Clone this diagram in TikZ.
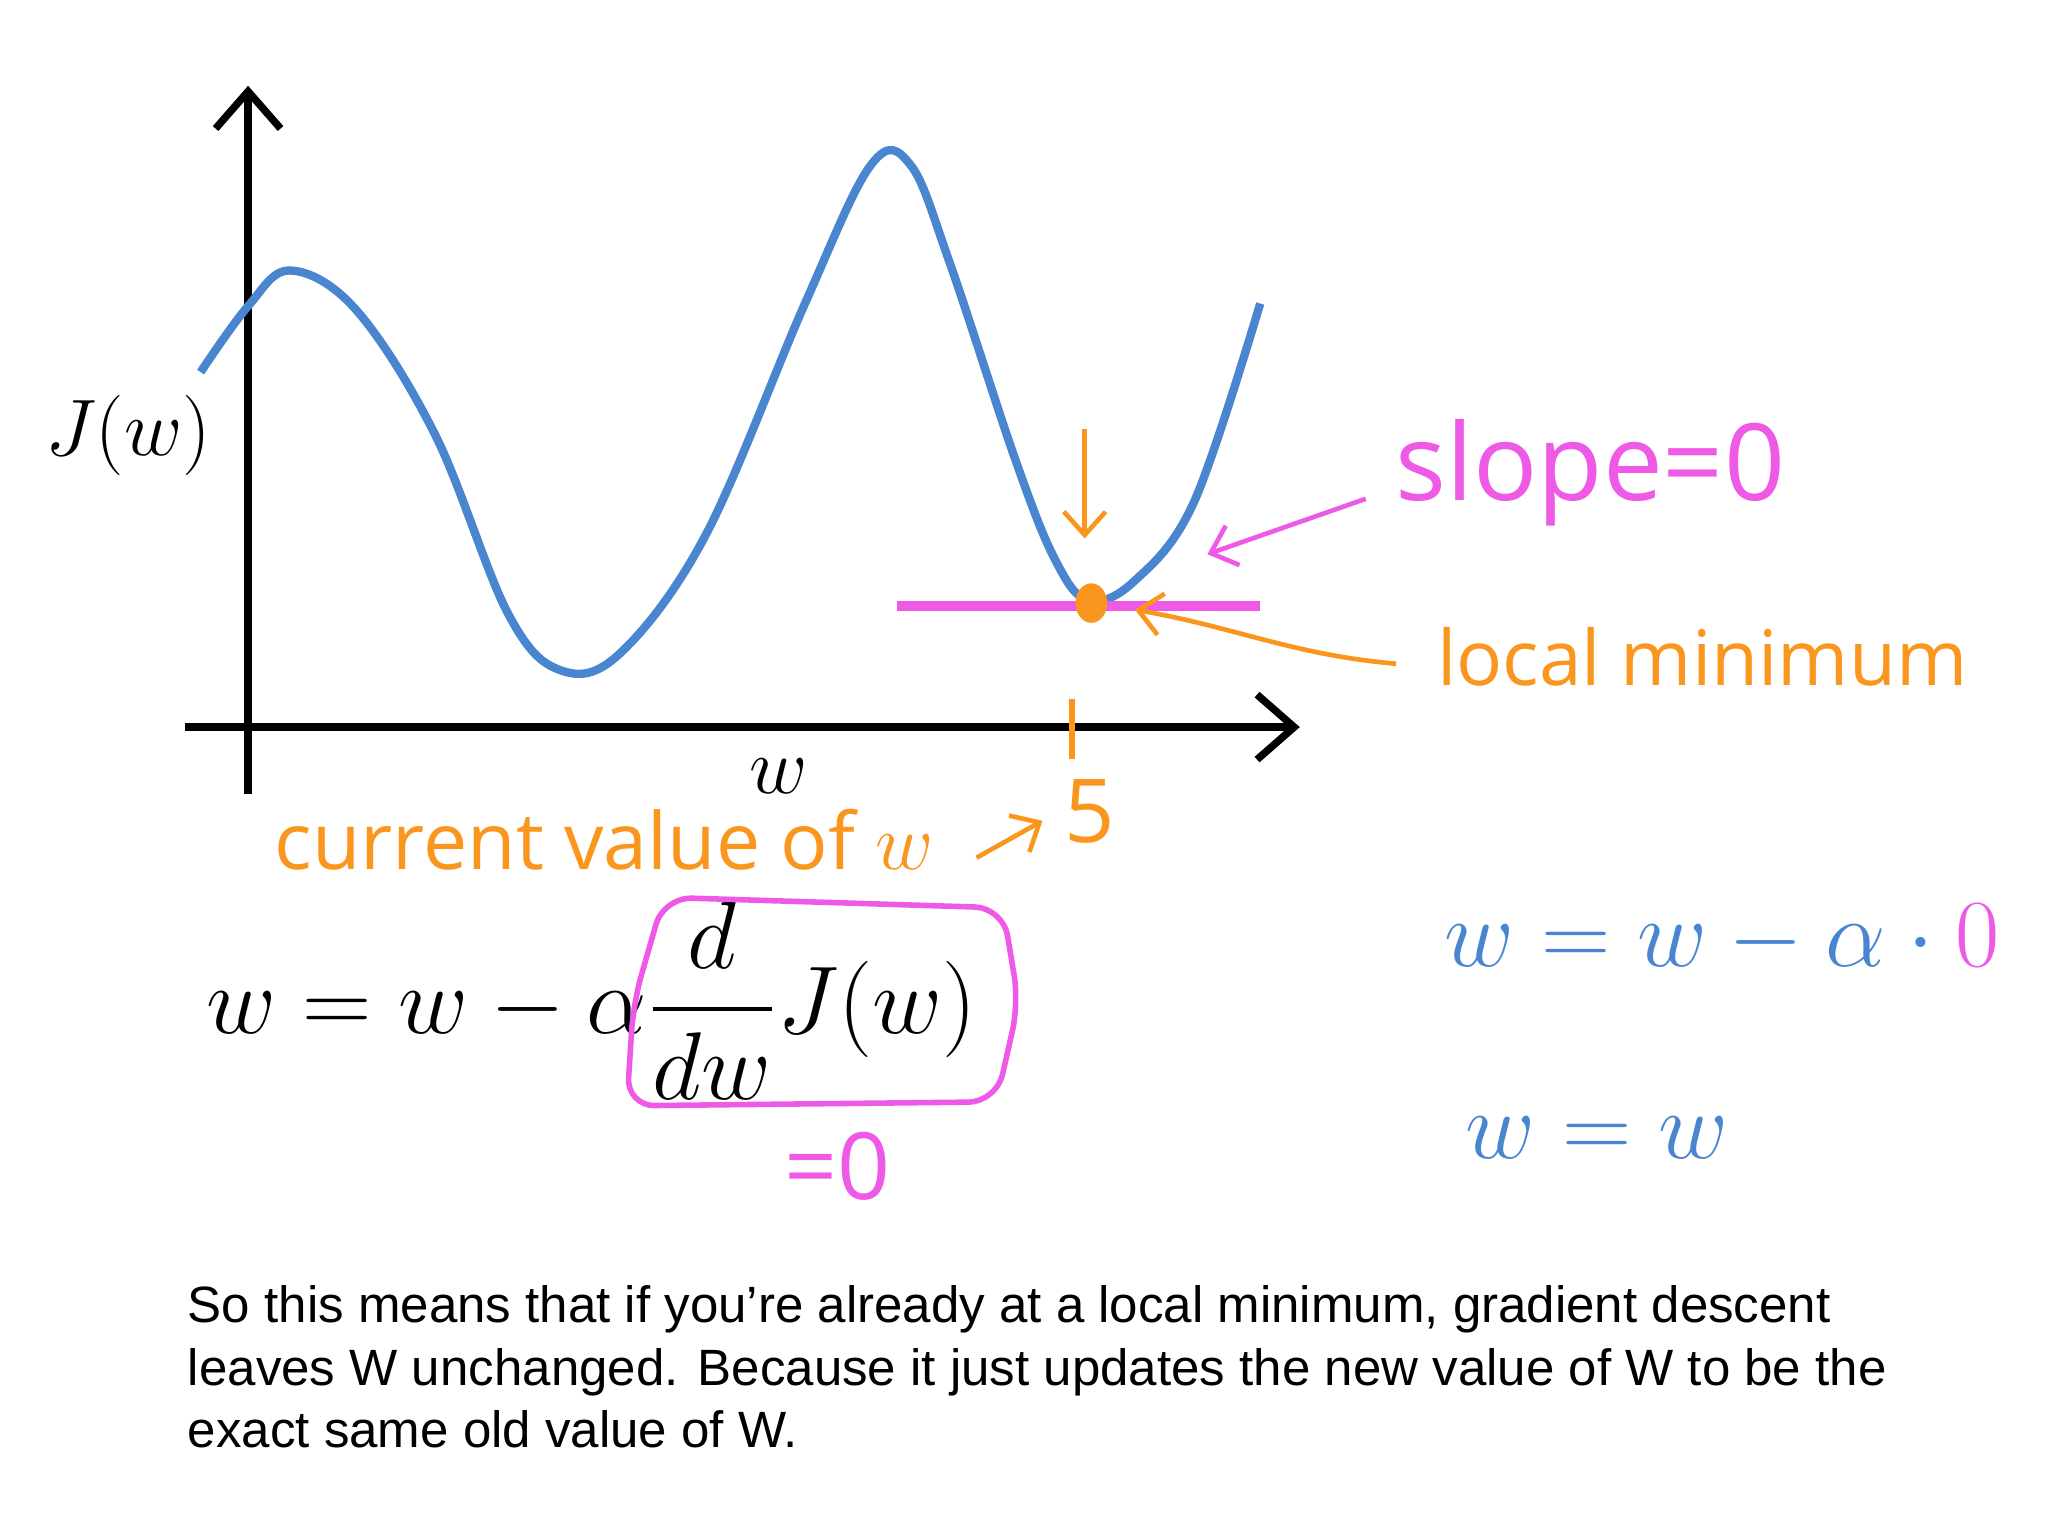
\documentclass[tikz,border=0pt]{standalone}
\usepackage{amsmath}
\usepackage{fontspec}
\setsansfont{Liberation Sans}
\newfontfamily\capfont{Liberation Sans}
\newfontfamily\lblfont{Open Sans}
\usetikzlibrary{arrows.meta}
\definecolor{cblue}{RGB}{74,134,208}
\definecolor{corange}{RGB}{250,150,30}
\definecolor{cmag}{RGB}{238,90,230}
\tikzset{axis/.style={line width=1.6pt,-{Straight Barb[length=8pt,width=14pt]}},
 orarrow/.style={corange,line width=1pt,-{Straight Barb[length=5pt,width=9pt]}},
 magarrow/.style={cmag,line width=1pt,-{Straight Barb[length=5pt,width=9pt]}}}
\begin{document}
\begin{tikzpicture}[x=0.01cm,y=-0.01cm]
\useasboundingbox (0,0) rectangle (1552,1164);
\draw[axis] (188,602) -- (188,65);
\draw[axis] (140,551) -- (985,551);
\node (J) at (97,330) {\fontsize{17.5}{19}\selectfont $J(w)$};
\node (wl) at (590,588) {\fontsize{16}{18}\selectfont $w$};
\draw[cblue,line width=1.8pt] plot[smooth,tension=0.6] coordinates {(152,282) (188,232) (220,205) (270,235) (330,330) (385,465) (425,508) (470,495) (535,405) (610,230) (660,125) (690,125) (720,200) (770,350) (800,425) (825,455) (860,440) (905,380) (955,230)};
\draw[cmag,line width=2.2pt] (680,459) -- (955,459);
\fill[corange] (827,457) ellipse (12 and 15);
\coordinate (da) at (822,325); \coordinate (db) at (822,408);
\draw[orarrow] (da) -- (db);
\coordinate (sa) at (1035,378); \coordinate (sb) at (915,420);
\draw[magarrow] (sa) -- (sb);
\node[cmag,font=\lblfont\fontsize{23}{25}\selectfont] (slope) at (1205,358) {slope=0};
\coordinate (la) at (1058,503); \coordinate (lb) at (860,462);
\draw[orarrow] (la) to[out=175,in=-10] (lb);
\node[corange,font=\lblfont\fontsize{16.5}{18}\selectfont] (lm) at (1290,498) {local minimum};
\draw[corange,line width=1.3pt] (812,530) -- (812,575);
\node[corange,font=\lblfont\fontsize{19}{20}\selectfont] (five) at (826,615) {5};
\node[corange,font=\lblfont\fontsize{17}{18}\selectfont] (cv) at (458,636) {current value of $w$};
\coordinate (ca) at (740,650); \coordinate (cb) at (790,622);
\draw[orarrow] (ca) -- (cb);
\node (eq) at (448,758) {\fontsize{20}{22}\selectfont $w = w - \alpha\dfrac{d}{dw}J(w)$};
\draw[cmag,line width=1.2pt,rounded corners=6pt] (503,680) -- (760,688) -- (772,760) -- (755,835) -- (475,838) -- (480,760) -- cycle;
\node[cmag,font=\lblfont\fontsize{20}{22}\selectfont] (z) at (635,884) {=0};
\node[cblue] (e1) at (1305,712) {\fontsize{19.5}{21}\selectfont $w = w - \alpha\cdot\textcolor{cmag}{0}$};
\node[cblue] (e2) at (1210,862) {\fontsize{21}{23}\selectfont $w = w$};
\node[anchor=north west,align=left,font=\capfont\fontsize{11}{13.4}\selectfont] (cap) at (130,962) {So this means that if you’re already at a local minimum, gradient descent\\leaves W unchanged. Because it just updates the new value of W to be the\\exact same old value of W.};
\end{tikzpicture}
\end{document}
